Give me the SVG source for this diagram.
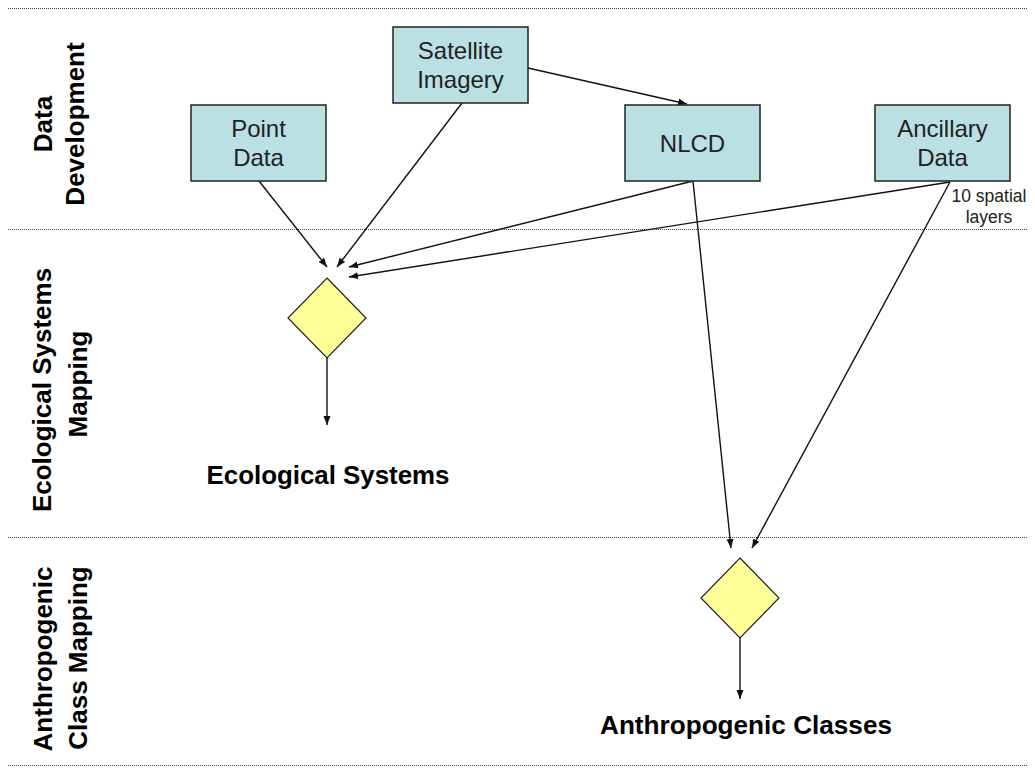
<svg xmlns="http://www.w3.org/2000/svg" width="1035" height="768" viewBox="0 0 1035 768">
<style>
.sep{stroke:#444;stroke-width:1;stroke-dasharray:1 1;fill:none}
.box{fill:#bbe0e3;stroke:#222;stroke-width:1.5}
.dia{fill:#ffff99;stroke:#222;stroke-width:1.2}
.bt{font-family:"Liberation Sans",Arial,sans-serif;font-size:24px;fill:#222;text-anchor:middle}
.lane{font-family:"Liberation Sans",Arial,sans-serif;font-size:26px;font-weight:bold;fill:#000;text-anchor:middle}
.out{font-family:"Liberation Sans",Arial,sans-serif;font-size:25px;font-weight:bold;fill:#000;text-anchor:middle}
.small{font-family:"Liberation Sans",Arial,sans-serif;font-size:17.5px;fill:#222;text-anchor:middle}
.con{stroke:#111;stroke-width:1.4;fill:none;marker-end:url(#ah)}
</style>
<defs>
<marker id="ah" markerWidth="10" markerHeight="8" refX="9" refY="4" orient="auto" markerUnits="userSpaceOnUse">
<path d="M0,0.5 L9,4 L0,7.5 Z" fill="#111"/>
</marker>
</defs>
<rect width="1035" height="768" fill="#fff"/>
<g id="separators">
<line class="sep" x1="8" y1="8.5" x2="1028" y2="8.5"/>
<line class="sep" x1="8" y1="229.5" x2="1028" y2="229.5"/>
<line class="sep" x1="8" y1="537.5" x2="1028" y2="537.5"/>
<line class="sep" x1="8" y1="765.5" x2="1028" y2="765.5"/>
</g>
<g id="lane-labels">
<g id="lane-data">
<text class="lane" transform="translate(52,124) rotate(-90)">Data</text>
<text class="lane" transform="translate(84,124) rotate(-90)">Development</text>
</g>
<g id="lane-eco">
<text class="lane" transform="translate(51,390) rotate(-90)">Ecological Systems</text>
<text class="lane" transform="translate(87,384) rotate(-90)">Mapping</text>
</g>
<g id="lane-anthro">
<text class="lane" transform="translate(52,659) rotate(-90)">Anthropogenic</text>
<text class="lane" transform="translate(87,658) rotate(-90)">Class Mapping</text>
</g>
</g>
<g id="connectors">
<line class="con" x1="528" y1="68" x2="687" y2="104"/>
<line class="con" x1="259" y1="181" x2="327" y2="267"/>
<line class="con" x1="462" y1="103" x2="337" y2="267"/>
<line class="con" x1="693" y1="181" x2="349" y2="267"/>
<line class="con" x1="950" y1="182" x2="349" y2="277"/>
<line class="con" x1="693" y1="181" x2="731" y2="548"/>
<line class="con" x1="950" y1="182" x2="752" y2="548"/>
<line class="con" x1="327" y1="358" x2="327" y2="425"/>
<line class="con" x1="740" y1="638" x2="740" y2="699"/>
</g>
<g id="satellite">
<rect class="box" x="393" y="27" width="135" height="76"/>
<text class="bt" x="460.5" y="59">Satellite</text>
<text class="bt" x="460.5" y="88">Imagery</text>
</g>
<g id="point-data">
<rect class="box" x="191" y="105" width="135" height="76"/>
<text class="bt" x="258.5" y="137">Point</text>
<text class="bt" x="258.5" y="166">Data</text>
</g>
<g id="nlcd">
<rect class="box" x="625" y="105" width="135" height="76"/>
<text class="bt" x="692.5" y="152">NLCD</text>
</g>
<g id="ancillary">
<rect class="box" x="875" y="105" width="135" height="76"/>
<text class="bt" x="942.5" y="137">Ancillary</text>
<text class="bt" x="942.5" y="166">Data</text>
</g>
<g id="spatial-label">
<text class="small" x="989" y="202">10 spatial</text>
<text class="small" x="989" y="223">layers</text>
</g>
<g id="eco-decision">
<polygon class="dia" points="327,278 366,318 327,358 288,318"/>
</g>
<g id="anthro-decision">
<polygon class="dia" points="740,558 779,598 740,638 701,598"/>
</g>
<g id="eco-output">
<text class="out" x="328" y="484" textLength="243" lengthAdjust="spacingAndGlyphs">Ecological Systems</text>
</g>
<g id="anthro-output">
<text class="out" x="746" y="734" textLength="292" lengthAdjust="spacingAndGlyphs">Anthropogenic Classes</text>
</g>
</svg>
